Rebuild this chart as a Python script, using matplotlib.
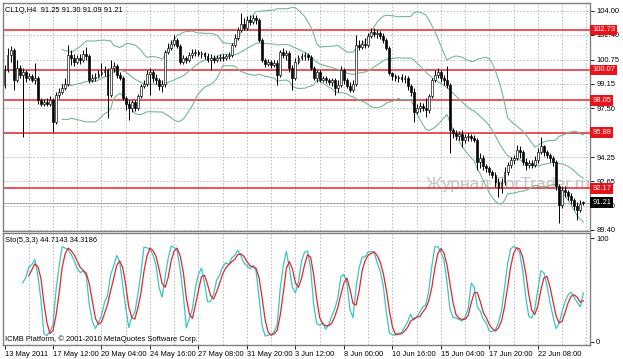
import numpy as np
import pandas as pd
import matplotlib
matplotlib.use("Agg")
import matplotlib.pyplot as plt
import matplotlib.transforms as mtransforms

# ---------------- data (CL1Q, H4) ----------------
opens = [99.07,100.07,101.07,101.40,99.40,100.20,99.73,99.93,99.53,99.67,
         99.40,99.53,98.07,97.80,97.93,97.80,98.07,96.60,98.40,98.60,
         98.87,99.13,101.07,100.87,100.60,100.87,100.73,101.13,101.00,99.40,
         99.53,99.60,99.80,99.93,100.07,98.40,100.20,100.33,99.73,99.53,
         98.20,97.80,97.53,97.93,97.53,98.33,99.00,99.13,99.80,99.93,
         99.53,99.40,99.00,99.13,101.27,101.53,101.80,102.07,101.67,100.60,
         100.87,100.73,101.07,101.20,101.27,101.13,101.20,101.00,100.73,100.87,
         100.73,100.87,100.93,100.87,101.00,101.07,101.73,102.20,102.73,103.13,
         102.87,103.40,103.27,103.53,103.40,102.07,100.73,100.47,100.60,100.40,
         100.53,99.73,101.27,101.07,101.20,100.20,99.53,100.60,100.87,101.00,
         101.07,100.93,100.20,99.53,99.93,99.40,99.53,99.40,99.27,99.40,
         98.87,99.07,100.07,99.40,99.00,98.73,99.13,101.73,101.60,101.80,
         101.73,102.33,102.60,102.47,102.53,102.33,102.07,101.53,99.87,99.67,
         99.53,99.60,99.47,99.53,99.00,98.60,97.27,97.53,97.67,97.53,
         97.40,98.33,99.40,99.73,99.93,99.53,99.40,99.07,96.07,95.87,
         95.67,95.80,95.40,95.60,95.67,95.53,95.40,93.93,94.20,93.67,
         93.53,93.27,93.07,92.60,92.20,92.60,93.27,93.73,94.07,94.20,
         94.73,94.60,93.93,93.73,93.87,93.73,94.07,94.60,95.00,94.60,
         94.40,94.20,93.93,92.33,91.07,92.07,91.93,91.67,91.40,91.00,
         90.73,91.25]
highs = [100.40,101.53,101.67,101.53,100.73,100.40,100.20,100.07,99.87,99.80,
         100.53,99.67,98.20,98.13,98.20,98.33,98.20,98.60,98.87,99.13,
         99.53,101.73,101.40,101.13,101.07,101.13,101.40,101.60,101.13,99.80,
         99.87,100.07,100.53,100.33,100.20,100.73,100.60,100.47,99.93,99.67,
         98.33,98.07,98.07,98.07,98.47,99.13,99.40,100.07,100.20,100.07,
         99.80,99.53,99.40,101.40,101.87,102.07,102.40,102.20,101.80,101.07,
         101.00,101.27,101.47,101.47,101.40,101.33,101.27,101.20,101.13,101.07,
         101.07,101.13,101.13,101.13,101.27,101.87,102.47,102.93,103.87,103.53,
         103.67,103.73,103.73,103.73,103.53,102.20,100.87,100.80,100.73,100.73,
         100.73,101.40,101.53,101.40,101.33,100.40,100.87,101.07,101.20,101.27,
         101.20,101.07,100.33,100.07,100.07,99.67,99.67,99.53,99.53,99.53,
         99.40,100.33,100.20,99.53,99.27,99.40,102.40,102.07,102.07,102.20,
         102.53,102.87,102.87,102.73,102.67,102.53,102.20,101.67,99.93,99.80,
         99.73,99.80,99.73,99.67,99.13,98.87,97.80,97.93,97.87,98.20,
         98.47,99.53,100.07,100.20,100.07,99.73,100.33,99.20,96.20,96.07,
         96.00,96.07,95.80,95.87,95.80,95.73,95.53,94.53,94.40,93.80,
         93.67,93.40,93.27,92.87,92.87,93.60,93.93,94.27,94.40,95.07,
         95.00,94.73,94.20,94.07,94.07,94.33,94.87,95.60,95.07,94.73,
         94.53,94.33,94.07,92.47,92.33,92.33,92.07,91.87,91.53,91.27,
         91.40,91.30]
lows = [98.87,99.93,100.60,98.73,99.27,99.53,95.60,99.27,99.40,99.27,
        99.13,97.80,97.67,97.67,97.67,97.67,95.93,96.47,98.20,98.47,
        98.73,99.00,100.40,100.33,100.47,100.47,100.60,100.73,99.20,99.27,
        99.33,99.53,99.67,99.67,96.87,98.27,99.93,99.53,99.40,98.07,
        97.40,96.73,97.27,97.33,97.40,98.20,98.87,99.00,98.40,99.27,
        99.13,98.73,98.60,98.93,101.13,101.40,101.67,101.53,100.47,100.47,
        100.53,100.60,100.87,101.00,101.00,100.87,100.80,100.60,100.07,100.53,
        100.60,100.67,100.67,100.73,100.80,100.93,101.60,102.07,102.60,102.73,
        102.73,103.07,103.13,103.13,101.93,100.60,100.27,100.33,100.20,100.27,
        99.07,99.60,100.87,100.73,99.93,98.73,99.40,100.47,100.73,100.73,
        100.73,100.07,99.40,99.27,99.27,99.27,99.20,99.07,99.00,98.40,
        98.60,98.93,99.13,98.87,98.60,98.60,99.00,101.40,101.47,101.53,
        101.60,102.20,102.27,102.20,102.13,101.87,101.40,99.73,99.40,99.33,
        99.27,99.27,99.20,98.73,98.33,96.60,97.13,97.27,97.33,96.93,
        97.20,98.20,99.27,99.53,99.27,99.07,98.87,94.53,95.53,95.40,
        95.40,94.93,95.20,95.33,95.33,95.27,93.40,93.53,93.40,93.27,
        93.07,92.87,92.27,91.60,91.87,92.40,93.07,93.53,93.80,94.07,
        94.20,93.73,93.40,93.53,93.53,93.60,93.87,94.47,94.33,94.20,
        93.93,93.67,92.07,89.87,90.87,91.60,91.40,91.13,90.73,90.07,
        90.60,91.09]
closes = [100.07,101.07,101.40,99.40,100.20,99.73,99.93,99.53,99.67,99.40,
          99.53,98.07,97.80,97.93,97.80,98.07,96.60,98.40,98.60,98.87,
          99.13,101.07,100.87,100.60,100.87,100.73,101.13,101.00,99.40,99.53,
          99.60,99.80,99.93,100.07,98.40,100.20,100.33,99.73,99.53,98.20,
          97.80,97.53,97.93,97.53,98.33,99.00,99.13,99.80,99.93,99.53,
          99.40,99.00,99.13,101.27,101.53,101.80,102.07,101.67,100.60,100.87,
          100.73,101.07,101.20,101.27,101.13,101.20,101.00,100.73,100.87,100.73,
          100.87,100.93,100.87,101.00,101.07,101.73,102.20,102.73,103.13,102.87,
          103.40,103.27,103.53,103.40,102.07,100.73,100.47,100.60,100.40,100.53,
          99.73,101.27,101.07,101.20,100.20,99.53,100.60,100.87,101.00,101.07,
          100.93,100.20,99.53,99.93,99.40,99.53,99.40,99.27,99.40,98.87,
          99.07,100.07,99.40,99.00,98.73,99.13,101.73,101.60,101.80,101.73,
          102.33,102.60,102.47,102.53,102.33,102.07,101.53,99.87,99.67,99.53,
          99.60,99.47,99.53,99.00,98.60,97.27,97.53,97.67,97.53,97.40,
          98.33,99.40,99.73,99.93,99.53,99.40,99.07,96.07,95.87,95.67,
          95.80,95.40,95.60,95.67,95.53,95.40,93.93,94.20,93.67,93.53,
          93.27,93.07,92.60,92.20,92.60,93.27,93.73,94.07,94.20,94.73,
          94.60,93.93,93.73,93.87,93.73,94.07,94.60,95.00,94.60,94.40,
          94.20,93.93,92.33,91.07,92.07,91.93,91.67,91.40,91.00,90.73,
          91.13,91.21]

time_labels = ["13 May 2011", "17 May 12:00", "20 May 04:00", "24 May 16:00",
               "27 May 08:00", "31 May 20:00", "3 Jun 12:00", "8 Jun 00:00",
               "10 Jun 16:00", "15 Jun 04:00", "17 Jun 20:00", "22 Jun 08:00"]
level_prices = [102.73, 100.07, 98.05, 95.88, 92.17]
grid_prices = [104.00, 102.40, 100.75, 99.15, 97.50, 95.85, 94.25, 92.65, 91.00, 89.40]
label_prices = [104.00, 102.40, 100.75, 99.15, 97.50, 94.25, 92.65, 91.00, 89.40]
last_price = 91.21
watermark = "Журнал ForTrader.ru"

FONT = "Liberation Sans"
plt.rcParams["font.family"] = [FONT, "DejaVu Sans"]

o = np.array(opens); h = np.array(highs); l = np.array(lows); c = np.array(closes)
n = len(c)
x = np.arange(n)

# indicators: Bollinger(20, 2) and Stochastic(5, 3, 3)
cs = pd.Series(c)
mid = cs.rolling(20).mean()
sd = cs.rolling(20).std(ddof=0)
upper = mid + 2 * sd
lower = mid - 2 * sd
hh = pd.Series(h).rolling(5).max()
ll = pd.Series(l).rolling(5).min()
k_main = 100 * (cs - ll).rolling(3).sum() / (hh - ll).rolling(3).sum()
k_sig = k_main.rolling(3).mean()

W, H = 623, 359
fig = plt.figure(figsize=(W / 100, H / 100), dpi=100)
fig.patch.set_facecolor("white")
ax = fig.add_axes([3 / W, 1 - 231 / H, 587 / W, 228 / H])
ax2 = fig.add_axes([3 / W, 1 - 345 / H, 587 / W, 112 / H])

xlim = (-0.5, 193.2)
grid_kw = dict(color="#b4b4b4", lw=0.6, linestyle=(0, (2, 2)), zorder=0)
for a in (ax, ax2):
    a.set_xlim(*xlim)
    for s in a.spines.values():
        s.set_color("#808080")
        s.set_linewidth(1.0)
    for gx in range(8, n + 2, 8):
        a.axvline(gx, **grid_kw)

# ---- main panel ----
ax.set_ylim(89.33, 104.53)
for p in grid_prices:
    ax.axhline(p, **grid_kw)

ax.text(139.0, 92.45, watermark, fontsize=12.5, color="#c4c4c4",
        va="center", ha="left", zorder=1, clip_on=True)

for lv in level_prices:
    ax.axhline(lv, color="#e8262c", lw=1.1, zorder=2)
ax.axhline(last_price, color="#a8a8a8", lw=0.7, zorder=2)

ax.plot(x, upper, color="#74b994", lw=0.8, zorder=3)
ax.plot(x, mid, color="#74b994", lw=0.8, zorder=3)
ax.plot(x, lower, color="#74b994", lw=0.8, zorder=3)

ax.vlines(x, l, h, color="black", lw=0.7, zorder=4)
bull = c >= o
body_bottom = np.minimum(o, c)
body_h = np.maximum(np.abs(c - o), 0.02)
ax.bar(x, body_h, bottom=body_bottom, width=0.62,
       color=np.where(bull, "white", "black"), edgecolor="black",
       linewidth=0.45, zorder=5)

ax.yaxis.tick_right()
ax.set_yticks(label_prices)
ax.set_yticklabels([f"{p:.2f}" for p in label_prices])
ax.tick_params(axis="y", labelsize=5.4, length=3, width=0.6, pad=1.5, colors="black")
ax.set_xticks([])

lab_tr = mtransforms.blended_transform_factory(ax.transAxes, ax.transData)
for lv in level_prices:
    ax.text(1.004, lv, f"{lv:.2f}", transform=lab_tr, fontsize=5.4, color="white",
            va="center", ha="left", clip_on=False, zorder=10,
            bbox=dict(boxstyle="square,pad=0.25", fc="#e8141b", ec="none"))
ax.text(1.004, last_price, f"{last_price:.2f}", transform=lab_tr, fontsize=5.4,
        color="white", va="center", ha="left", clip_on=False, zorder=10,
        bbox=dict(boxstyle="square,pad=0.25", fc="black", ec="none"))

# ---- stochastic panel ----
ax2.set_ylim(-3, 105)
ax2.plot(x, k_main, color="#3cc4c4", lw=0.9, zorder=3)
ax2.plot(x, k_sig, color="#e0282c", lw=0.9, zorder=4)
ax2.yaxis.tick_right()
ax2.set_yticks([0, 100])
ax2.set_yticklabels(["0", "100"])
ax2.tick_params(axis="y", labelsize=5.4, length=3, width=0.6, pad=1.5)
tick_pos = list(range(0, 16 * len(time_labels), 16))
ax2.set_xticks(tick_pos)
ax2.set_xticklabels(time_labels, ha="left")
ax2.tick_params(axis="x", labelsize=5.4, length=3, width=0.6, pad=1.5)

fig.text(5 / W, 1 - 10 / H, "CL1Q,H4  91.25 91.30 91.09 91.21", fontsize=5.4,
         va="center", ha="left")
fig.text(5 / W, 1 - 240 / H, "Sto(5,3,3) 44.7143 34.3186", fontsize=5.4,
         va="center", ha="left")
fig.text(5 / W, 1 - 339 / H, "ICMB Platform, © 2001-2010 MetaQuotes Software Corp.",
         fontsize=5.4, va="center", ha="left")

fig.savefig("out.png", dpi=100, facecolor="white")
